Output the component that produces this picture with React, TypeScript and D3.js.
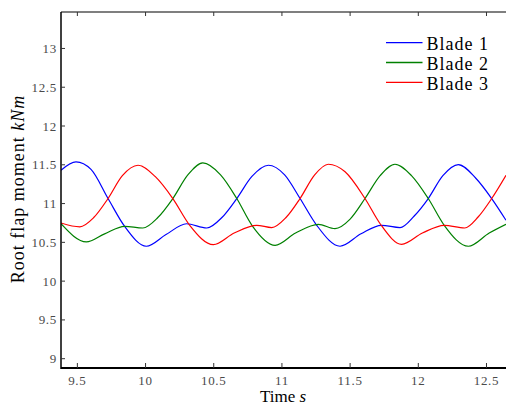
import React from "react";
import * as d3 from "d3";

const xTicks = [9.5, 10, 10.5, 11, 11.5, 12, 12.5];
const yTicks = [9, 9.5, 10, 10.5, 11, 11.5, 12, 12.5, 13];
const seriesNames = ["Blade 1", "Blade 2", "Blade 3"];
const seriesColors = ["#0000ff", "#008000", "#ff0000"];

const blade1T = [9.38, 9.49, 9.6, 9.725, 9.847, 10.006, 10.15, 10.3, 10.449, 10.56, 10.669, 10.78, 10.9, 11.02, 11.133, 11.255, 11.426, 11.58, 11.73, 11.866, 11.97, 12.073, 12.18, 12.293, 12.42, 12.538, 12.643];
const blade1V = [11.43, 11.537, 11.44, 11.065, 10.705, 10.45, 10.6, 10.74, 10.685, 10.82, 11.065, 11.35, 11.494, 11.37, 11.065, 10.72, 10.45, 10.61, 10.72, 10.69, 10.84, 11.065, 11.36, 11.503, 11.33, 11.065, 10.785];

const blade2T = [9.38, 9.566, 9.7, 9.847, 9.98, 10.09, 10.2, 10.31, 10.42, 10.55, 10.669, 10.78, 10.95, 11.1, 11.267, 11.389, 11.5, 11.609, 11.72, 11.829, 11.95, 12.073, 12.19, 12.367, 12.52, 12.643];
const blade2V = [10.74, 10.505, 10.61, 10.707, 10.685, 10.82, 11.065, 11.37, 11.524, 11.37, 11.065, 10.72, 10.462, 10.62, 10.733, 10.677, 10.8, 11.065, 11.36, 11.507, 11.36, 11.065, 10.72, 10.45, 10.62, 10.733];

const blade3T = [9.38, 9.518, 9.62, 9.725, 9.83, 9.945, 10.07, 10.2, 10.324, 10.497, 10.65, 10.815, 10.925, 11.03, 11.133, 11.24, 11.34, 11.463, 11.609, 11.72, 11.878, 12.03, 12.19, 12.34, 12.44, 12.538, 12.643];
const blade3V = [10.75, 10.7, 10.82, 11.065, 11.36, 11.494, 11.35, 11.065, 10.72, 10.47, 10.62, 10.72, 10.69, 10.82, 11.065, 11.37, 11.507, 11.41, 11.065, 10.74, 10.475, 10.62, 10.72, 10.685, 10.83, 11.065, 11.365];

const W = 506;
const H = 407;
const left = 61, right = 506, top = 12, bottom = 368;
const SERIF = "Liberation Serif, DejaVu Serif, serif";

export default function App() {
  const x = d3.scaleLinear().domain([9.38, 12.643]).range([left, right]);
  const y = d3.scaleLinear().domain([8.88, 13.47]).range([bottom, top]);
  const line = d3
    .line<[number, number]>()
    .x((d) => x(d[0]))
    .y((d) => y(d[1]))
    .curve(d3.curveMonotoneX);
  const series = [
    blade1T.map((t, i) => [t, blade1V[i]] as [number, number]),
    blade2T.map((t, i) => [t, blade2V[i]] as [number, number]),
    blade3T.map((t, i) => [t, blade3V[i]] as [number, number]),
  ];
  const tickFont = { fontFamily: SERIF, fontSize: 13, fill: "#4a4a4a", letterSpacing: "0.7px" };
  return (
    <svg width={W} height={H} style={{ position: "absolute", left: 0, top: 0, background: "#fff" }}>
      <defs>
        <clipPath id="plot">
          <rect x={left} y={top} width={right - left} height={bottom - top} />
        </clipPath>
      </defs>
      <g clipPath="url(#plot)">
        {series.map((s, i) => (
          <path key={i} d={line(s) || ""} fill="none" stroke={seriesColors[i]} strokeWidth={1.2} />
        ))}
      </g>
      <line x1={left} x2={right} y1={top} y2={top} stroke="#000" strokeWidth={1.2} />
      <line x1={left} x2={right} y1={bottom} y2={bottom} stroke="#000" strokeWidth={2} />
      <line x1={left} x2={left} y1={top} y2={bottom + 1} stroke="#000" strokeWidth={1.5} />
      {xTicks.map((t) => (
        <g key={"x" + t}>
          <line x1={x(t)} x2={x(t)} y1={top} y2={top + 4} stroke="#333" strokeWidth={1} />
          <line x1={x(t)} x2={x(t)} y1={bottom} y2={bottom - 5} stroke="#333" strokeWidth={1} />
          <text x={x(t)} y={385} textAnchor="middle" {...tickFont}>
            {String(t)}
          </text>
        </g>
      ))}
      {yTicks.map((v) => (
        <g key={"y" + v}>
          <line x1={left} x2={left + 4} y1={y(v)} y2={y(v)} stroke="#333" strokeWidth={1} />
          <text x={57} y={y(v) + 4.5} textAnchor="end" {...tickFont}>
            {String(v)}
          </text>
        </g>
      ))}
      <text x={283} y={402} textAnchor="middle" fontFamily={SERIF} fontSize={17} fill="#000">
        Time <tspan fontStyle="italic">s</tspan>
      </text>
      <text
        transform={`translate(24, 189) rotate(-90)`}
        textAnchor="middle"
        fontFamily={SERIF}
        fontSize={18}
        letterSpacing="1px"
        fill="#000"
      >
        Root flap moment <tspan fontStyle="italic">kNm</tspan>
      </text>
      {seriesNames.map((n, i) => (
        <g key={n}>
          <line x1={386} x2={422.5} y1={42.7 + i * 19.8} y2={42.7 + i * 19.8} stroke={seriesColors[i]} strokeWidth={1.3} />
          <text x={426.5} y={50 + i * 19.8} fontFamily={SERIF} fontSize={18} letterSpacing="1px" fill="#000">
            {n}
          </text>
        </g>
      ))}
    </svg>
  );
}
